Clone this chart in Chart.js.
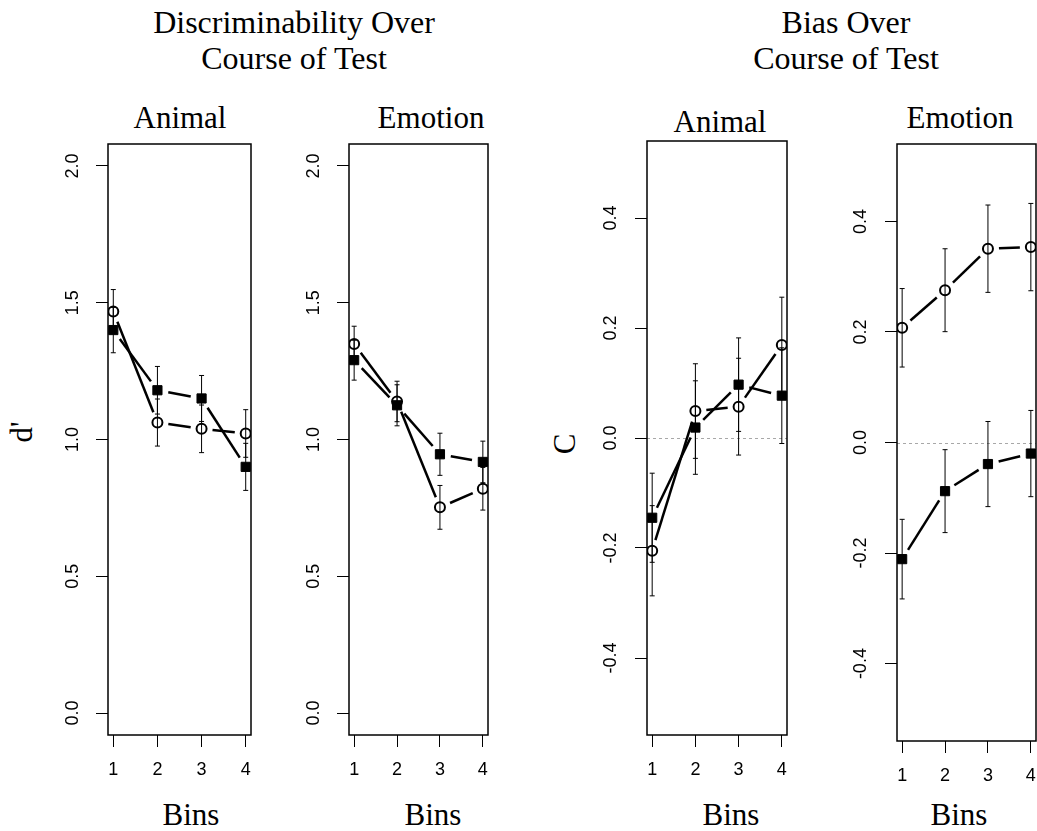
<!DOCTYPE html>
<html>
<head>
<meta charset="utf-8">
<script src="https://cdn.jsdelivr.net/npm/chart.js@4.4.1/dist/chart.umd.min.js"></script>
<style>
  html, body { margin: 0; padding: 0; background: #fff; }
  #page { position: relative; width: 1037px; height: 831px; overflow: hidden; }
  #page canvas { position: absolute; }
  .lbl {
    position: absolute;
    font-family: "Liberation Serif", "Times New Roman", serif;
    font-size: 31px;
    line-height: 31px;
    color: #000;
    white-space: nowrap;
    transform: translateX(-50%);
  }
  .big { font-size: 32px; line-height: 32px; }
  .rot { transform: translate(-50%, -50%) rotate(-90deg); }
</style>
</head>
<body>
<div id="page">
  <div class="lbl big" style="left:294px; top:6px;">Discriminability Over</div>
  <div class="lbl big" style="left:294px; top:42px;">Course of Test</div>
  <div class="lbl big" style="left:846px; top:6px;">Bias Over</div>
  <div class="lbl big" style="left:846px; top:42px;">Course of Test</div>

  <div class="lbl" style="left:180px; top:102px;">Animal</div>
  <div class="lbl" style="left:431px; top:102px;">Emotion</div>
  <div class="lbl" style="left:720px; top:106px;">Animal</div>
  <div class="lbl" style="left:960px; top:102px;">Emotion</div>

  <div class="lbl" style="left:191px; top:799px;">Bins</div>
  <div class="lbl" style="left:433px; top:799px;">Bins</div>
  <div class="lbl" style="left:731px; top:799px;">Bins</div>
  <div class="lbl" style="left:959px; top:799px;">Bins</div>

  <div class="lbl rot" style="left:21px; top:432px;">d'</div>
  <div class="lbl rot" style="left:564px; top:444px;">C</div>
</div>
<script>
// ---- data ----
const bins = [1, 2, 3, 4];
const dTicks = [0, 0.5, 1, 1.5, 2];
const cTicks = [-0.4, -0.2, 0, 0.2, 0.4];

// d' : filled squares and open circles, with error half-widths
const dAnimalSquare = [1.40, 1.18, 1.15, 0.90];
const dAnimalSquareErr = [0.083, 0.087, 0.084, 0.086];
const dAnimalCircle = [1.468, 1.062, 1.039, 1.022];
const dAnimalCircleErr = [0.08, 0.086, 0.087, 0.087];

const dEmotionSquare = [1.29, 1.125, 0.946, 0.918];
const dEmotionSquareErr = [0.073, 0.075, 0.077, 0.076];
const dEmotionCircle = [1.349, 1.139, 0.752, 0.82];
const dEmotionCircleErr = [0.065, 0.074, 0.08, 0.078];

// C (bias)
const cAnimalSquare = [-0.145, 0.019, 0.097, 0.077];
const cAnimalSquareErr = [0.081, 0.085, 0.085, 0.087];
const cAnimalCircle = [-0.205, 0.049, 0.057, 0.169];
const cAnimalCircleErr = [0.082, 0.086, 0.088, 0.087];

const cEmotionSquare = [-0.211, -0.088, -0.039, -0.020];
const cEmotionSquareErr = [0.072, 0.075, 0.077, 0.078];
const cEmotionCircle = [0.2075, 0.2755, 0.3506, 0.3535];
const cEmotionCircleErr = [0.071, 0.075, 0.079, 0.079];

// ---- layout ----
const WY = 70;   // width reserved for the y axis
const HX = 60;   // height reserved for the x axis
const PAD = 4;
const tickFont = { family: '"Liberation Sans", Arial, sans-serif', size: 18 };

// R-like extras: dashed reference line, error bars, "type b" lines, frame box
const rStylePlugin = {
    id: 'rStyle',
    beforeDatasetsDraw(chart, args, opts) {
        const { ctx, chartArea: area } = chart;
        const yScale = chart.scales.y;
        const gap = opts.gap;
        ctx.save();

        if (opts.refLine !== null && opts.refLine !== undefined) {
            const y = Math.round(yScale.getPixelForValue(opts.refLine)) + 0.5;
            ctx.strokeStyle = '#a8a8a8';
            ctx.lineWidth = 1;
            ctx.setLineDash([3, 3]);
            ctx.beginPath();
            ctx.moveTo(area.left, y);
            ctx.lineTo(area.right, y);
            ctx.stroke();
            ctx.setLineDash([]);
        }

        chart.data.datasets.forEach((ds, i) => {
            const pts = chart.getDatasetMeta(i).data;
            ctx.strokeStyle = '#000';

            // error bars
            ctx.lineWidth = 1;
            ds.data.forEach((d, j) => {
                const e = ds.errors[j];
                const x = pts[j].x;
                const y1 = yScale.getPixelForValue(d.y + e);
                const y2 = yScale.getPixelForValue(d.y - e);
                ctx.beginPath();
                ctx.moveTo(x, y1); ctx.lineTo(x, y2);
                ctx.moveTo(x - 2.5, y1); ctx.lineTo(x + 2.5, y1);
                ctx.moveTo(x - 2.5, y2); ctx.lineTo(x + 2.5, y2);
                ctx.stroke();
            });

            // connecting segments that stop short of each point
            ctx.lineWidth = 2.5;
            for (let j = 1; j < pts.length; j++) {
                const a = pts[j - 1], b = pts[j];
                const dx = b.x - a.x, dy = b.y - a.y;
                const len = Math.hypot(dx, dy);
                if (len <= 2 * gap) continue;
                const ux = dx / len, uy = dy / len;
                ctx.beginPath();
                ctx.moveTo(a.x + ux * gap, a.y + uy * gap);
                ctx.lineTo(b.x - ux * gap, b.y - uy * gap);
                ctx.stroke();
            }
        });
        ctx.restore();
    },
    afterDraw(chart) {
        const { ctx, chartArea: area } = chart;
        ctx.save();
        ctx.strokeStyle = '#000';
        ctx.lineWidth = 1.5;
        ctx.strokeRect(area.left, area.top, area.right - area.left, area.bottom - area.top);
        ctx.restore();
    }
};

function makePanel(frame, yMin, yMax, yTicks, tickPad, refLine, squares, squareErr, circles, circleErr) {
    const [left, top, right, bottom] = frame;
    const canvas = document.createElement('canvas');
    const w = WY + (right - left) + 2 * PAD;
    const h = (bottom - top) + HX + 2 * PAD;
    canvas.width = w;
    canvas.height = h;
    canvas.style.left = (left - WY - PAD) + 'px';
    canvas.style.top = (top - PAD) + 'px';
    canvas.style.width = w + 'px';
    canvas.style.height = h + 'px';
    document.getElementById('page').appendChild(canvas);

    const axisGrid = { drawOnChartArea: false, drawTicks: true, tickLength: 12, color: '#000', lineWidth: 1 };

    return new Chart(canvas.getContext('2d'), {
        type: 'scatter',
        data: {
            datasets: [
                {
                    label: 'squares',
                    data: bins.map((b, i) => ({ x: b, y: squares[i] })),
                    errors: squareErr,
                    pointStyle: 'rect',
                    pointRadius: 6.5,
                    pointBackgroundColor: '#000',
                    pointBorderColor: '#000',
                    pointBorderWidth: 1
                },
                {
                    label: 'circles',
                    data: bins.map((b, i) => ({ x: b, y: circles[i] })),
                    errors: circleErr,
                    pointStyle: 'circle',
                    pointRadius: 5,
                    pointBackgroundColor: 'rgba(0,0,0,0)',
                    pointBorderColor: '#000',
                    pointBorderWidth: 2
                }
            ]
        },
        options: {
            responsive: false,
            maintainAspectRatio: false,
            animation: false,
            events: [],
            layout: { padding: PAD, autoPadding: false },
            plugins: {
                legend: { display: false },
                tooltip: { enabled: false },
                rStyle: { gap: 11, refLine: refLine }
            },
            scales: {
                x: {
                    type: 'linear',
                    bounds: 'data',
                    min: 0.88,
                    max: 4.12,
                    afterBuildTicks: (s) => { s.ticks = bins.map(v => ({ value: v })); },
                    afterFit: (s) => { s.height = HX; s.paddingLeft = 0; s.paddingRight = 0; },
                    grid: axisGrid,
                    border: { display: false },
                    ticks: {
                        color: '#000',
                        font: tickFont,
                        padding: 12,
                        maxRotation: 0,
                        autoSkip: false,
                        callback: (v) => String(v)
                    }
                },
                y: {
                    type: 'linear',
                    bounds: 'data',
                    min: yMin,
                    max: yMax,
                    afterBuildTicks: (s) => { s.ticks = yTicks.map(v => ({ value: v })); },
                    afterFit: (s) => { s.width = WY; s.paddingTop = 0; s.paddingBottom = 0; },
                    grid: axisGrid,
                    border: { display: false },
                    ticks: {
                        color: '#000',
                        font: tickFont,
                        padding: tickPad,
                        minRotation: 90,
                        maxRotation: 90,
                        crossAlign: 'center',
                        autoSkip: false,
                        callback: (v) => Number(v).toFixed(1)
                    }
                }
            }
        },
        plugins: [rStylePlugin]
    });
}

makePanel([108, 144, 251, 735], -0.08, 2.08, dTicks, 10, null,
    dAnimalSquare, dAnimalSquareErr, dAnimalCircle, dAnimalCircleErr);
makePanel([349, 144, 488, 735], -0.08, 2.08, dTicks, 10, null,
    dEmotionSquare, dEmotionSquareErr, dEmotionCircle, dEmotionCircleErr);
makePanel([647, 141, 787, 735], -0.54, 0.54, cTicks, 8, 0,
    cAnimalSquare, cAnimalSquareErr, cAnimalCircle, cAnimalCircleErr);
makePanel([897, 144, 1036, 741], -0.54, 0.54, cTicks, 8, 0,
    cEmotionSquare, cEmotionSquareErr, cEmotionCircle, cEmotionCircleErr);
</script>
</body>
</html>
